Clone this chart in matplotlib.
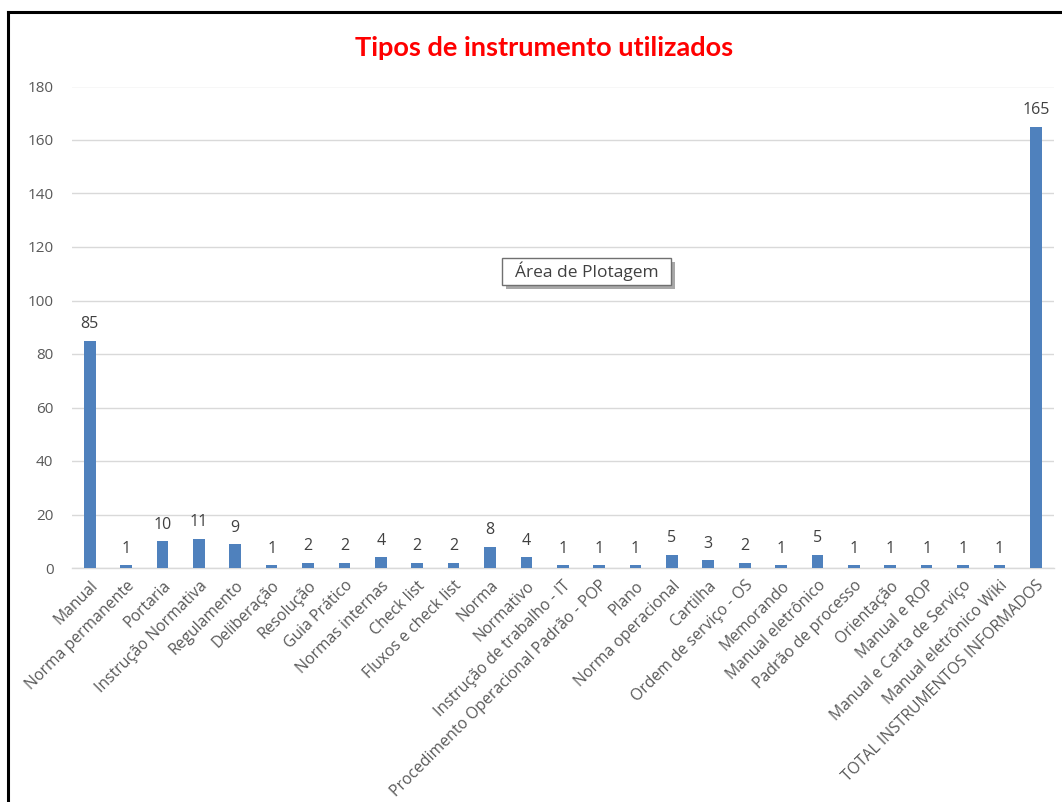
import matplotlib
matplotlib.use("Agg")
import matplotlib.pyplot as plt
from matplotlib.lines import Line2D
from matplotlib.patches import Rectangle

categories = [
    "Manual", "Norma permanente", "Portaria", "Instrução Normativa", "Regulamento",
    "Deliberação", "Resolução", "Guia Prático", "Normas internas", "Check list",
    "Fluxos e check list", "Norma", "Normativo", "Instrução de trabalho - IT",
    "Procedimento Operacional Padrão - POP", "Plano", "Norma operacional", "Cartilha",
    "Ordem de serviço - OS", "Memorando", "Manual eletrônico", "Padrão de processo",
    "Orientação", "Manual e ROP", "Manual e Carta de Serviço", "Manual eletrônico Wiki",
    "TOTAL INSTRUMENTOS INFORMADOS",
]
values = [85, 1, 10, 11, 9, 1, 2, 2, 4, 2, 2, 8, 4, 1, 1, 1, 5, 3, 2, 1, 5, 1, 1, 1, 1, 1, 165]
y_ticks = [0, 20, 40, 60, 80, 100, 120, 140, 160, 180]
title = "Tipos de instrumento utilizados"

W, H = 1062, 802
fig = plt.figure(figsize=(W / 100, H / 100), dpi=100)
fig.patch.set_facecolor("white")

font = ["Open Sans", "DejaVu Sans"]
label_color = "#595959"

ax_left, ax_right = 71.5, 1054.0
ax_top, ax_bottom = 86.5, 568.0
ax = fig.add_axes([ax_left / W, 1 - ax_bottom / H, (ax_right - ax_left) / W, (ax_bottom - ax_top) / H])

x = list(range(len(categories)))
ax.bar(x, values, width=0.32, color="#4f81bd", zorder=3)
for xi, v in zip(x, values):
    ax.annotate(str(v), (xi, v), xytext=(0, 6), textcoords="offset points",
                ha="center", va="bottom", fontsize=11.5, color="#404040", family=font)

ax.set_xlim(-0.5, len(categories) - 0.5)
ax.set_ylim(0, 180)
ax.set_yticks(y_ticks)
ax.set_yticklabels([str(t) for t in y_ticks], fontsize=11, color=label_color, family=font)
ax.set_xticks(x)
ax.set_xticklabels(categories, rotation=45, ha="right", rotation_mode="anchor",
                   fontsize=11.3, color=label_color, family=font)
ax.tick_params(axis="both", length=0)
ax.tick_params(axis="y", pad=13)
ax.tick_params(axis="x", pad=7)
ax.grid(axis="y", color="#d9d9d9", linewidth=1.0, zorder=0)
ax.set_axisbelow(True)
for s in ["top", "right", "left"]:
    ax.spines[s].set_visible(False)
ax.spines["bottom"].set_color("#d9d9d9")
ax.spines["bottom"].set_linewidth(1.0)

fig.text(544 / W, 1 - 48 / H, title, ha="center", va="center", fontsize=19.5,
         fontweight="bold", color="#ff0000", family=["Lato", "DejaVu Sans"])

# Tooltip box "Área de Plotagem"
bx0, by0, bx1, by1 = 502, 258, 671, 285
shadow = Rectangle(((bx0 + 4) / W, 1 - (by1 + 4) / H), (bx1 - bx0) / W, (by1 - by0) / H,
                   transform=fig.transFigure, facecolor="#a8a8a8", edgecolor="none", zorder=5)
box = Rectangle((bx0 / W, 1 - by1 / H), (bx1 - bx0) / W, (by1 - by0) / H,
                transform=fig.transFigure, facecolor="white", edgecolor="#707070",
                linewidth=1.0, zorder=6)
fig.add_artist(shadow)
fig.add_artist(box)
fig.text((bx0 + bx1) / 2 / W, 1 - (by0 + by1) / 2 / H, "Área de Plotagem", ha="center",
         va="center", fontsize=12.5, color="#404040", family=font, zorder=7)

# Outer frame (top and left edges visible)
fig.add_artist(Line2D([8 / W, 1.0], [1 - 12 / H, 1 - 12 / H], transform=fig.transFigure,
                      color="black", linewidth=2.2))
fig.add_artist(Line2D([8 / W, 8 / W], [1 - 12 / H, 0.0], transform=fig.transFigure,
                      color="black", linewidth=2.2))

fig.savefig("out.png", dpi=100, facecolor="white")
